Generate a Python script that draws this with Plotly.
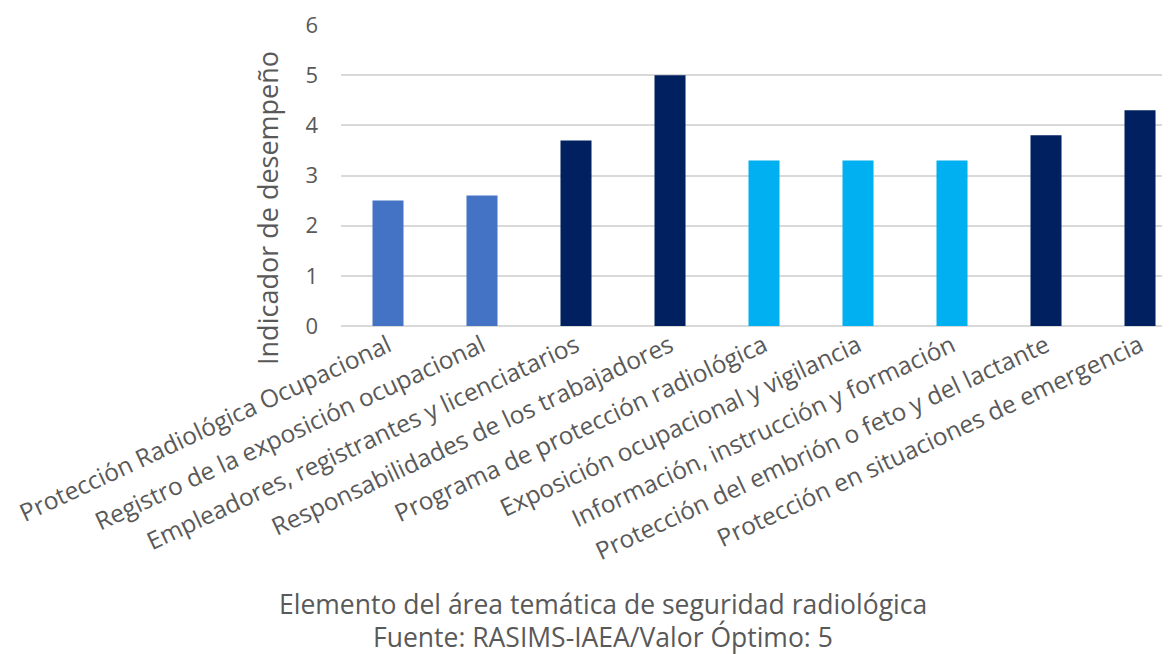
import plotly.graph_objects as go

categories = [
    "Protección Radiológica Ocupacional",
    "Registro de la exposición ocupacional",
    "Empleadores, registrantes y licenciatarios",
    "Responsabilidades de los trabajadores",
    "Programa de protección radiológica",
    "Exposición ocupacional y vigilancia",
    "Información, instrucción y formación",
    "Protección del embrión o feto y del lactante",
    "Protección en situaciones de emergencia",
]
values = [2.5, 2.6, 3.7, 5.0, 3.3, 3.3, 3.3, 3.8, 4.3]
colors = ["#4472C4", "#4472C4", "#002060", "#002060", "#00B0F0",
          "#00B0F0", "#00B0F0", "#002060", "#002060"]

gray = "#595959"
font_family = "Open Sans, Lato, sans-serif"

fig = go.Figure(go.Bar(x=categories, y=values, marker=dict(color=colors, line_width=0)))

# page body has an 8px margin, so figure is sized to fit the window after it
# the original chart's plot area runs past the right edge, so the x range is cut short
fig.update_layout(
    width=1162, height=646,
    margin=dict(l=333, r=0, t=17, b=328),
    plot_bgcolor="white", paper_bgcolor="white",
    bargap=0.67,
    showlegend=False,
    font=dict(family=font_family, color=gray, size=20),
    xaxis=dict(tickangle=-25, tickfont=dict(size=24.5, color=gray), showgrid=False,
               showline=False, ticks="", automargin=False, range=[-0.5, 8.319]),
    yaxis=dict(range=[0, 6], dtick=1, gridcolor="#D9D9D9", gridwidth=1.5,
               zeroline=True, zerolinecolor="#D9D9D9", zerolinewidth=1.5,
               tickfont=dict(size=22, color=gray), ticklabelstandoff=22,
               automargin=False),
    annotations=[
        dict(text="Indicador de desempeño", textangle=-90, xref="paper", yref="paper",
             x=-0.0893, y=0.392, showarrow=False, font=dict(size=27, color=gray),
             xanchor="center", yanchor="middle"),
        dict(text="Elemento del área temática de seguridad radiológica", xref="paper",
             yref="paper", x=0.316, y=-0.924, showarrow=False,
             font=dict(size=26.5, color=gray), xanchor="center", yanchor="middle"),
        dict(text="Fuente: RASIMS-IAEA/Valor Óptimo: 5", xref="paper",
             yref="paper", x=0.316, y=-1.033, showarrow=False,
             font=dict(size=26.5, color=gray), xanchor="center", yanchor="middle"),
    ],
)

fig.write_html("out.html")
